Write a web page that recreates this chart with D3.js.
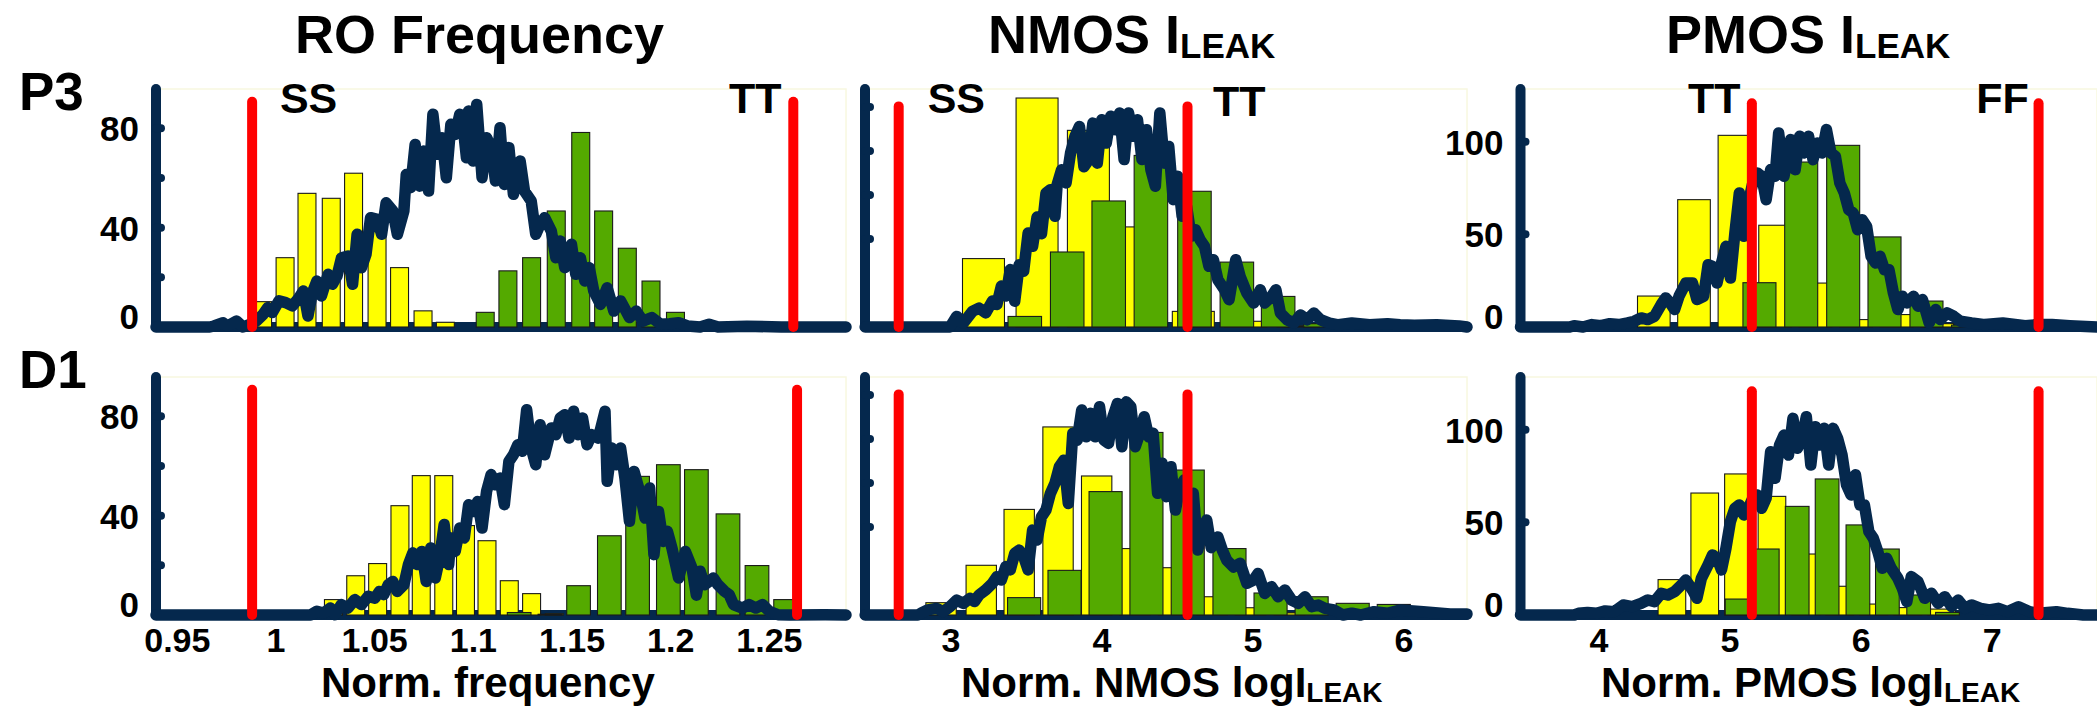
<!DOCTYPE html>
<html>
<head>
<meta charset="utf-8">
<script src="https://cdn.jsdelivr.net/npm/d3@7"></script>
<style>
  html, body { margin: 0; padding: 0; background: #ffffff; }
  svg text { font-family: "Liberation Sans", Arial, Helvetica, sans-serif; font-weight: bold; fill: #000; }
</style>
</head>
<body>
<svg id="chart" width="2097" height="708"></svg>
<script>
// ---------------- data ----------------
// Histogram bars: [bin centre, count]; fine-grained distribution: [x, count]

// RO frequency, P3
const roP3Yellow = [[0.9932,10.2],[1.0046,27.9],[1.0157,53.8],[1.0280,51.8],[1.0393,61.9],[1.0512,38.4],[1.0626,23.9],[1.0745,6.5],[1.0858,1.9]];
const roP3Green = [[1.1060,5.9],[1.1175,22.6],[1.1295,27.9],[1.1420,46.7],[1.1544,78.3],[1.1660,46.7],[1.1780,31.7],[1.1900,18.5],[1.2024,5.9]];
const roP3Dist = [[0.9392,0],[0.9664,0],[0.9686,0.4],[0.9732,1.7],[0.9754,0.4],[0.9800,2.4],[0.9833,0],[0.9868,1.1],[0.9901,2.4],[0.9935,5.1],[0.9958,7.8],[0.9981,5.8],[1.0015,10.5],[1.0049,9.8],[1.0083,8.5],[1.0117,11.8],[1.0139,14.5],[1.0162,4.4],[1.0184,13.8],[1.0207,18.5],[1.0230,12.5],[1.0264,21.2],[1.0286,17.2],[1.0309,20.5],[1.0332,27.9],[1.0365,28.6],[1.0388,17.2],[1.0411,37.3],[1.0433,23.9],[1.0456,29.2],[1.0479,44.0],[1.0513,43.3],[1.0535,37.3],[1.0558,50.0],[1.0592,46.7],[1.0615,37.3],[1.0648,46.7],[1.0660,61.4],[1.0682,56.1],[1.0705,73.5],[1.0728,56.7],[1.0750,70.8],[1.0773,54.7],[1.0795,85.6],[1.0818,69.5],[1.0841,76.2],[1.0863,60.1],[1.0886,81.6],[1.0908,77.5],[1.0931,85.6],[1.0954,76.2],[1.0965,68.1],[1.0976,86.9],[1.0999,66.8],[1.1017,89.6],[1.1044,60.1],[1.1067,76.2],[1.1090,72.2],[1.1112,58.8],[1.1135,80.2],[1.1157,57.4],[1.1180,72.2],[1.1203,53.4],[1.1237,66.8],[1.1259,54.7],[1.1293,50.7],[1.1316,37.3],[1.1338,41.3],[1.1361,44.0],[1.1395,38.6],[1.1418,27.9],[1.1440,34.6],[1.1463,23.9],[1.1497,33.3],[1.1519,21.2],[1.1542,27.9],[1.1565,18.5],[1.1587,23.9],[1.1610,14.5],[1.1644,9.1],[1.1678,15.8],[1.1712,6.4],[1.1746,10.5],[1.1791,3.8],[1.1825,6.4],[1.1859,2.4],[1.1904,3.8],[1.1949,1.1],[1.1995,1.3],[1.2040,1.7],[1.2085,0.4],[1.2149,0],[1.2194,1.1],[1.2240,0],[1.2386,0.3],[1.2560,0],[1.2888,0]];

// RO frequency, D1
const roD1Yellow = [[1.0291,6.2],[1.0404,15.8],[1.0515,20.7],[1.0628,44.0],[1.0736,56.1],[1.0850,56.1],[1.0960,36.0],[1.1069,29.9],[1.1182,13.8],[1.1295,8.6],[1.1410,0.5]];
const roD1Green = [[1.1232,1.0],[1.1388,0.3],[1.1533,11.8],[1.1689,31.9],[1.1832,55.8],[1.1988,60.5],[1.2130,58.5],[1.2290,40.7],[1.2437,19.9],[1.2582,6.2]];
const roD1Dist = [[0.9392,0],[1.0175,0],[1.0207,1.5],[1.0241,0.8],[1.0275,2.8],[1.0298,0.1],[1.0331,4.2],[1.0365,2.8],[1.0399,6.2],[1.0433,4.2],[1.0467,7.5],[1.0501,6.8],[1.0524,9.5],[1.0546,8.2],[1.0569,12.2],[1.0592,13.5],[1.0614,9.5],[1.0648,12.2],[1.0671,20.3],[1.0693,25.0],[1.0716,20.3],[1.0739,25.6],[1.0761,13.5],[1.0784,27.0],[1.0807,14.9],[1.0829,22.9],[1.0852,36.4],[1.0875,20.3],[1.0886,31.0],[1.0908,25.6],[1.0931,35.0],[1.0954,31.0],[1.0976,44.4],[1.0999,41.7],[1.1022,45.7],[1.1044,35.0],[1.1067,49.8],[1.1090,56.5],[1.1112,52.4],[1.1135,55.1],[1.1157,44.4],[1.1180,61.8],[1.1203,64.5],[1.1225,68.5],[1.1248,65.9],[1.1270,82.6],[1.1293,67.2],[1.1316,60.5],[1.1338,76.6],[1.1361,64.5],[1.1395,75.3],[1.1418,72.6],[1.1440,79.3],[1.1463,80.6],[1.1485,71.2],[1.1508,82.0],[1.1531,72.6],[1.1553,79.3],[1.1576,68.5],[1.1599,72.6],[1.1633,71.2],[1.1667,82.0],[1.1678,53.8],[1.1700,67.2],[1.1723,60.5],[1.1746,67.2],[1.1768,55.1],[1.1791,37.7],[1.1814,57.8],[1.1847,48.4],[1.1870,39.0],[1.1893,51.1],[1.1915,24.3],[1.1938,41.7],[1.1961,29.6],[1.1983,33.7],[1.2006,27.0],[1.2040,14.9],[1.2074,25.6],[1.2108,18.9],[1.2130,8.0],[1.2149,17.6],[1.2171,12.2],[1.2194,13.5],[1.2216,14.9],[1.2239,12.2],[1.2273,9.5],[1.2296,8.2],[1.2318,4.2],[1.2363,2.8],[1.2397,4.2],[1.2431,2.8],[1.2465,4.2],[1.2499,1.5],[1.2544,0.1],[1.2601,0],[1.2782,0.1],[1.2888,0]];

// NMOS leakage, P3
const nmosP3Yellow = [[3.2151,31.1],[3.5699,104.1],[3.9099,89.4],[4.2588,45.5],[4.6046,7.1],[4.9506,2.6],[5.2994,0.5]];
const nmosP3Green = [[3.4886,4.8],[3.7695,34.1],[4.0444,57.3],[4.3238,78.0],[4.6121,61.7],[4.8930,29.5],[5.1664,13.9],[5.4473,1.5]];
const nmosP3Dist = [[2.4316,0],[2.7568,0],[2.9933,0],[3.0377,4.8],[3.0820,1.8],[3.1412,7.1],[3.1855,8.6],[3.2299,6.4],[3.2742,11.8],[3.3038,10.2],[3.3334,18.6],[3.3629,14.1],[3.3925,26.1],[3.4220,11.7],[3.4516,28.3],[3.4811,25.3],[3.5107,42.7],[3.5403,36.7],[3.5698,50.0],[3.5994,42.4],[3.6289,60.9],[3.6585,62.4],[3.6881,50.3],[3.7029,64.7],[3.7324,71.5],[3.7620,65.5],[3.7916,79.1],[3.8211,86.7],[3.8507,91.2],[3.8803,72.8],[3.9098,75.8],[3.9394,92.7],[3.9689,74.5],[3.9985,94.2],[4.0281,83.6],[4.0576,95.8],[4.0872,89.7],[4.1168,97.3],[4.1463,76.1],[4.1759,97.3],[4.2054,86.7],[4.2350,94.2],[4.2646,76.1],[4.2942,89.7],[4.3237,71.5],[4.3533,64.0],[4.3829,97.3],[4.4124,74.5],[4.4420,82.1],[4.4716,57.9],[4.5011,68.5],[4.5307,50.3],[4.5603,54.8],[4.5898,41.2],[4.6194,44.2],[4.6490,39.7],[4.6785,36.7],[4.7081,27.6],[4.7377,30.6],[4.7672,21.5],[4.8116,16.9],[4.8412,12.4],[4.8855,30.6],[4.9151,22.9],[4.9594,15.4],[5.0037,10.9],[5.0481,16.9],[5.0777,10.9],[5.1220,13.9],[5.1516,16.9],[5.1812,6.4],[5.2255,3.3],[5.2698,1.8],[5.3142,5.5],[5.3585,3.3],[5.4029,6.4],[5.4472,3.3],[5.5063,1.8],[5.5655,1.0],[5.6542,1.8],[5.7724,1.0],[5.8907,1.5],[5.9735,1.0],[6.0680,0.8],[6.2160,1.0],[6.3640,0.5],[6.4170,0]];

// NMOS leakage, D1
const nmosD1Yellow = [[2.9342,5.6],[3.2003,22.6],[3.4516,48.0],[3.7088,85.5],[3.9646,63.2],[4.2188,30.2],[4.4745,21.5],[4.7288,8.3],[4.9831,3.3],[5.2403,1.0]];
const nmosD1Green = [[3.4841,7.9],[3.7517,20.3],[4.0237,56.1],[4.2942,83.0],[4.5677,65.9],[4.8441,30.2],[5.1161,10.0],[5.3881,8.3],[5.6601,5.3],[5.9321,4.8]];
const nmosD1Dist = [[2.4316,0],[2.7800,0],[2.8012,0.8],[2.8455,2.3],[2.9046,3.0],[2.9490,1.5],[2.9933,3.8],[3.0377,6.8],[3.0820,5.3],[3.1264,7.6],[3.1559,6.1],[3.1855,9.1],[3.2299,11.4],[3.2742,14.4],[3.3038,17.4],[3.3334,15.9],[3.3629,22.0],[3.3925,20.5],[3.4220,28.0],[3.4516,29.5],[3.4811,26.5],[3.5107,20.5],[3.5403,38.6],[3.5698,34.1],[3.5994,44.7],[3.6289,47.7],[3.6585,55.3],[3.6881,59.8],[3.7176,67.4],[3.7472,70.4],[3.7768,50.7],[3.8063,82.6],[3.8359,79.5],[3.8655,93.2],[3.8950,81.0],[3.9246,91.7],[3.9541,81.0],[3.9837,94.7],[4.0133,79.5],[4.0428,78.0],[4.0724,90.1],[4.1020,96.2],[4.1315,76.5],[4.1611,96.9],[4.1907,94.7],[4.2202,76.5],[4.2498,82.6],[4.2794,90.1],[4.3089,81.0],[4.3385,82.6],[4.3681,55.3],[4.3976,69.0],[4.4272,53.8],[4.4568,67.4],[4.4863,47.7],[4.5159,58.3],[4.5455,61.4],[4.5750,52.3],[4.6046,55.3],[4.6342,29.5],[4.6637,38.6],[4.6933,43.2],[4.7229,30.6],[4.7672,35.5],[4.7968,29.5],[4.8263,24.9],[4.8707,21.8],[4.9150,23.5],[4.9594,14.4],[5.0037,15.9],[5.0333,18.9],[5.0777,9.8],[5.1220,12.9],[5.1664,8.3],[5.2107,11.4],[5.2551,6.8],[5.2994,5.3],[5.3438,8.3],[5.3881,3.8],[5.4325,4.5],[5.4768,3.0],[5.5359,2.3],[5.5951,0],[5.6542,0.8],[5.7133,0],[5.8020,1.5],[5.8907,0.8],[5.9735,2.3],[6.1270,1.5],[6.3050,0.5],[6.4170,0.5]];

// PMOS leakage, P3
const pmosP3Yellow = [[4.4183,16.7],[4.7250,68.7],[5.0334,103.4],[5.3435,54.9],[5.6519,23.7],[5.9604,4.0],[6.2705,6.7],[6.5806,1.8]];
const pmosP3Green = [[5.2243,23.9],[5.5429,89.0],[5.8632,98.0],[6.1785,48.6],[6.4988,14.0],[6.8157,1.0]];
const pmosP3Dist = [[3.4010,0],[3.7759,0],[3.8100,0.7],[3.8781,0],[3.9463,1.3],[4.0145,0.7],[4.0826,1.8],[4.1508,1.3],[4.2189,2.2],[4.2700,3.1],[4.3212,4.9],[4.3723,4.0],[4.4234,5.8],[4.4745,12.1],[4.5086,15.7],[4.5427,13.0],[4.5768,9.4],[4.6108,16.6],[4.6620,23.7],[4.7131,23.7],[4.7472,14.8],[4.7983,16.6],[4.8324,33.6],[4.8664,32.7],[4.9005,23.7],[4.9346,34.5],[4.9687,43.5],[5.0027,26.4],[5.0368,50.7],[5.0709,72.3],[5.1050,48.9],[5.1391,66.9],[5.1731,77.7],[5.2072,83.1],[5.2413,81.3],[5.2754,68.7],[5.3095,84.9],[5.3435,81.3],[5.3708,104.7],[5.4117,81.3],[5.4628,101.1],[5.4969,84.9],[5.5310,102.9],[5.5650,93.9],[5.5991,102.9],[5.6332,90.3],[5.6673,99.3],[5.7014,93.9],[5.7354,106.5],[5.7695,93.9],[5.8036,92.1],[5.8377,77.7],[5.8718,72.3],[5.9058,63.3],[5.9399,61.5],[5.9740,52.5],[6.0081,57.9],[6.0422,54.3],[6.0762,38.1],[6.1103,34.5],[6.1444,38.1],[6.1785,30.9],[6.2126,30.9],[6.2466,18.3],[6.2807,9.4],[6.3148,16.6],[6.3489,13.0],[6.4000,16.6],[6.4341,11.2],[6.4681,14.8],[6.5193,2.2],[6.5704,9.4],[6.6045,4.0],[6.6556,7.6],[6.7067,5.8],[6.7578,3.1],[6.8430,2.2],[6.9452,1.3],[7.0816,2.2],[7.2520,0.7],[7.3542,1.3],[7.4564,1.3],[7.5928,0.7],[7.8000,0]];

// PMOS leakage, D1
const pmosD1Yellow = [[4.5563,19.1],[4.8068,65.8],[5.0641,76.1],[5.3197,64.0],[5.5787,32.9],[5.8377,15.5],[6.0967,5.9],[6.3557,4.0],[6.6147,3.2]];
const pmosD1Green = [[5.0539,8.6],[5.2839,35.6],[5.5122,58.6],[5.7406,73.4],[5.9757,48.6],[6.2006,35.6],[6.4392,10.8],[6.6590,1.4]];
const pmosD1Dist = [[3.4010,0],[3.8100,0],[3.8441,0.9],[3.9122,1.4],[3.9804,0.9],[4.0485,2.2],[4.1167,1.8],[4.1849,5.4],[4.2530,4.5],[4.3212,6.3],[4.3723,8.1],[4.4234,7.2],[4.4745,11.7],[4.5256,10.8],[4.5768,12.6],[4.6279,16.2],[4.6620,18.9],[4.7131,13.5],[4.7472,9.0],[4.7812,19.8],[4.8324,27.0],[4.8664,32.4],[4.9005,30.6],[4.9346,24.3],[4.9687,36.0],[5.0027,50.4],[5.0368,57.6],[5.0709,59.4],[5.1050,54.0],[5.1391,57.6],[5.1731,63.0],[5.2072,64.8],[5.2413,57.6],[5.2754,63.0],[5.3095,88.1],[5.3435,73.8],[5.3776,91.7],[5.4117,97.1],[5.4458,86.3],[5.4799,106.1],[5.5139,89.9],[5.5480,95.3],[5.5821,107.0],[5.6162,80.9],[5.6503,101.6],[5.6843,91.7],[5.7184,100.7],[5.7525,80.9],[5.7866,100.7],[5.8206,95.3],[5.8547,86.3],[5.8888,70.2],[5.9229,64.8],[5.9570,75.6],[5.9910,59.4],[6.0251,59.4],[6.0592,45.0],[6.0933,41.4],[6.1274,34.2],[6.1614,25.2],[6.1955,30.6],[6.2296,25.2],[6.2807,19.8],[6.3148,14.4],[6.3489,7.2],[6.3829,20.7],[6.4341,18.0],[6.4852,9.0],[6.5363,11.7],[6.5874,6.3],[6.6385,9.9],[6.6897,4.5],[6.7408,8.1],[6.7919,3.6],[6.8430,5.4],[6.9112,3.6],[6.9793,2.7],[7.0475,3.6],[7.1156,1.8],[7.2008,4.5],[7.2860,1.8],[7.3542,0.9],[7.4905,1.8],[7.5757,0.9],[7.6950,0],[7.8000,0]];

// Corner limits (red markers): [low, high] and marker height
const roCorners = { P3: [0.9879, 1.2621], D1: [0.9879, 1.2640] };
const nmosCorners = { P3: [2.6536, 4.5662], D1: [2.6536, 4.5662] };
const pmosCorners = { P3: [5.1664, 7.3542], D1: [5.1664, 7.3542] };
const cornerHeights = [90.7, 100.3, 120.7];

// Corner names written over the P3 row: [x at text start, text]
const roCornerNames = [[1.0020, "SS"], [1.2295, "TT"]];
const nmosCornerNames = [[2.8457, "SS"], [4.7351, "TT"]];
const pmosCornerNames = [[4.6794, "TT"], [6.8779, "FF"]];

// Axes: tick values and labels
const roYTicks = [20, 40, 60, 80];
const roYLabels = [0, 40, 80];
const nmosYTicks = [40, 60, 80, 100];
const nmosYLabels = [];
const pmosYTicks = [50, 100];
const pmosYLabels = [0, 50, 100];
const roXTicks = [0.95, 1, 1.05, 1.1, 1.15, 1.2, 1.25];
const nmosXTicks = [3, 4, 5, 6];
const pmosXTicks = [4, 5, 6, 7];

const columnTitles = [["RO Frequency", ""], ["NMOS I", "LEAK"], ["PMOS I", "LEAK"]];
const xAxisTitles = [["Norm. frequency", ""], ["Norm. NMOS logI", "LEAK"], ["Norm. PMOS logI", "LEAK"]];
const rowNames = ["P3", "D1"];

// ---------------- layout ----------------
const NAVY = "#05284d", RED = "#ff0000", YELLOW = "#ffff00", GREEN = "#54aa00";

const columns = [
  { x0: 156, x1: 846, domain: [0.9392, 1.2888], yMax: 95.8, yTicks: roYTicks, yLabels: roYLabels, xTicks: roXTicks,
    titleX: 295, axisTitleX: 321, corners: roCorners, names: roCornerNames, nameDy: [0, 0] },
  { x0: 865, x1: 1467, domain: [2.4305, 6.417], yMax: 108.2, yTicks: nmosYTicks, yLabels: nmosYLabels, xTicks: nmosXTicks,
    titleX: 988, axisTitleX: 961, corners: nmosCorners, names: nmosCornerNames, nameDy: [0, 3] },
  { x0: 1520.5, x1: 2097, domain: [3.401, 7.8], yMax: 128.4, yTicks: pmosYTicks, yLabels: pmosYLabels, xTicks: pmosXTicks,
    titleX: 1666, axisTitleX: 1601, corners: pmosCorners, names: pmosCornerNames, nameDy: [0, 0] }
];
const rows = [ { top: 89, zero: 327, key: "P3", nameY: 110 }, { top: 377, zero: 615, key: "D1", nameY: 388 } ];

const panels = [
  { col: 0, row: 0, yellow: roP3Yellow, green: roP3Green, dist: roP3Dist, yW: 0.0091, gW: 0.0091 },
  { col: 1, row: 0, yellow: nmosP3Yellow, green: nmosP3Green, dist: nmosP3Dist, yW: 0.278, gW: 0.222 },
  { col: 2, row: 0, yellow: pmosP3Yellow, green: pmosP3Green, dist: pmosP3Dist, yW: 0.249, gW: 0.252 },
  { col: 0, row: 1, yellow: roD1Yellow, green: roD1Green, dist: roD1Dist, yW: 0.0091, gW: 0.0120 },
  { col: 1, row: 1, yellow: nmosD1Yellow, green: nmosD1Green, dist: nmosD1Dist, yW: 0.201, gW: 0.219 },
  { col: 2, row: 1, yellow: pmosD1Yellow, green: pmosD1Green, dist: pmosD1Dist, yW: 0.211, gW: 0.181 }
];

const svg = d3.select("#chart");

function drawPanel(p) {
  const c = columns[p.col], r = rows[p.row];
  const x = d3.scaleLinear().domain(c.domain).range([c.x0, c.x1]);
  const y = d3.scaleLinear().domain([0, c.yMax]).range([r.zero, r.top]);
  const g = svg.append("g");

  // faint plot frame
  g.append("rect")
    .attr("x", c.x0).attr("y", r.top).attr("width", c.x1 - c.x0).attr("height", r.zero - r.top)
    .attr("fill", "none").attr("stroke", "#f8f8df").attr("stroke-width", 1.5);

  // axes: thick round-capped lines with dot ticks
  g.append("line").attr("x1", c.x0).attr("x2", c.x0).attr("y1", r.top).attr("y2", r.zero)
    .attr("stroke", NAVY).attr("stroke-width", 10).attr("stroke-linecap", "round");
  g.append("line").attr("x1", c.x0).attr("x2", c.x1).attr("y1", r.zero).attr("y2", r.zero)
    .attr("stroke", NAVY).attr("stroke-width", 10).attr("stroke-linecap", "round");
  g.selectAll("line.tick").data(c.yTicks).join("line").attr("class", "tick")
    .attr("x1", c.x0).attr("x2", c.x0 + 5).attr("y1", d => y(d)).attr("y2", d => y(d))
    .attr("stroke", NAVY).attr("stroke-width", 8).attr("stroke-linecap", "round");
  g.selectAll("text.ylab").data(c.yLabels).join("text").attr("class", "ylab")
    .attr("x", c.x0 - 17).attr("y", d => y(d)).attr("dy", d => d === 0 ? 1.5 : 13)
    .attr("text-anchor", "end").attr("font-size", 35).text(d => d);

  if (p.row === 1) {
    g.selectAll("text.xlab").data(c.xTicks).join("text").attr("class", "xlab")
      .attr("x", d => x(d)).attr("y", 652).attr("text-anchor", "middle").attr("font-size", 34)
      .text(d => String(d));
  }

  // histogram bars
  const bars = (data, w, fill, cls) => {
    g.selectAll("rect." + cls).data(data).join("rect").attr("class", cls)
      .attr("x", d => x(d[0] - w / 2)).attr("width", d => x(d[0] + w / 2) - x(d[0] - w / 2))
      .attr("y", d => y(d[1])).attr("height", d => Math.max(0.8, y(0) - y(d[1])))
      .attr("fill", fill).attr("stroke", "#1a1a1a").attr("stroke-width", 1.1);
  };
  bars(p.yellow, p.yW, YELLOW, "yb");
  bars(p.green, p.gW, GREEN, "gb");

  // fine-grained distribution
  const line = d3.line().x(d => x(d[0])).y(d => y(d[1]));
  g.append("path").attr("d", line(p.dist)).attr("fill", "none")
    .attr("stroke", NAVY).attr("stroke-width", 11.5)
    .attr("stroke-linejoin", "round").attr("stroke-linecap", "round");

  // corner limits
  const lims = c.corners[r.key];
  g.selectAll("line.corner").data(lims).join("line").attr("class", "corner")
    .attr("x1", d => x(d)).attr("x2", d => x(d)).attr("y1", y(0)).attr("y2", y(cornerHeights[p.col]))
    .attr("stroke", RED).attr("stroke-width", 10).attr("stroke-linecap", "round");

  if (p.row === 0) {
    g.selectAll("text.cname").data(c.names).join("text").attr("class", "cname")
      .attr("x", d => x(d[0])).attr("y", (d, i) => r.top + 24 + c.nameDy[i])
      .attr("font-size", 43).text(d => d[1]);
  }
}

panels.forEach(drawPanel);

// column titles and x-axis titles
columns.forEach((c, i) => {
  const t = svg.append("text").attr("x", c.titleX).attr("y", 53).attr("font-size", 54);
  t.append("tspan").text(columnTitles[i][0]);
  if (columnTitles[i][1]) t.append("tspan").attr("font-size", 35).attr("dy", 5).text(columnTitles[i][1]);
  const a = svg.append("text").attr("x", c.axisTitleX).attr("y", 697).attr("font-size", 42);
  a.append("tspan").text(xAxisTitles[i][0]);
  if (xAxisTitles[i][1]) a.append("tspan").attr("font-size", 28).attr("dy", 5).text(xAxisTitles[i][1]);
});

// row names
rows.forEach((r, i) => {
  svg.append("text").attr("x", 19).attr("y", r.nameY).attr("font-size", 53).text(rowNames[i]);
});
</script>
</body>
</html>
